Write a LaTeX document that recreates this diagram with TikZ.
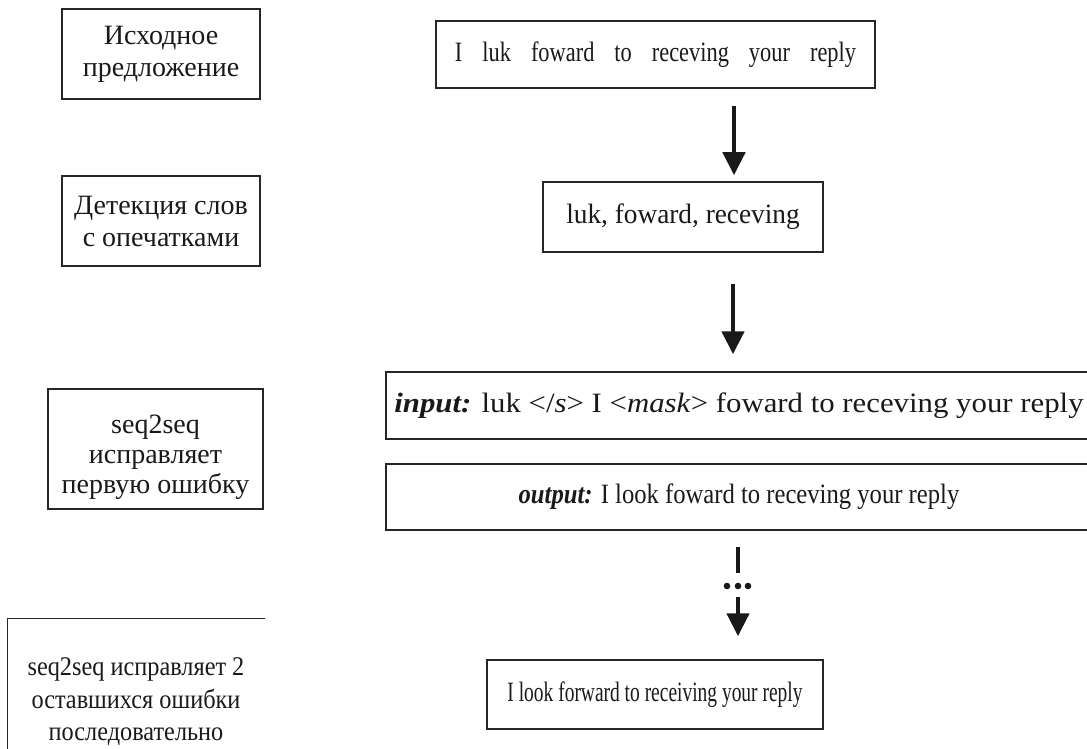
\documentclass[tikz,border=0pt]{standalone}
\usepackage{graphicx}
\usepackage{fontspec}
\setmainfont{Liberation Serif}
\usetikzlibrary{arrows.meta, positioning}

\newcommand{\gap}{\hspace{20pt}}
\newcommand{\squeeze}[2]{\scalebox{#1}[1]{#2}}

\tikzset{
  box/.style={draw=black!85, line width=1.5pt, align=center, inner sep=0pt,
    text=black!90, font=\fontsize{28}{32}\selectfont},
  stepnote/.style={box},
  flow/.style={line width=4.5pt, draw=black!90,
    -{Triangle[width=22pt,length=23pt]}},
}

\begin{document}
\begin{tikzpicture}[x=1pt, y=-1pt]
\clip (0,0) rectangle (1087,749);

% ========== left column: what each step does ==========
\node[stepnote, minimum width=198pt, minimum height=90pt] (src) at (161,54) {Исходное\\предложение};
\node[stepnote, minimum width=198pt, minimum height=90pt] (det) at (161,221) {Детекция слов\\с опечатками};
\node[stepnote, minimum width=215pt, minimum height=120pt, font=\fontsize{28}{30}\selectfont]
  (fix1) at (155.5,449) {\rule{0pt}{36pt}seq2seq\\исправляет\\первую ошибку};
\node[stepnote, draw=none, minimum width=256pt, minimum height=166pt, font=\fontsize{27}{32.5}\selectfont]
  (fixall) at (136,702) {\squeeze{0.9}{seq2seq исправляет 2}\\\squeeze{0.9}{оставшихся ошибки}\\\squeeze{0.9}{последовательно}};
\draw[black!85, line width=1.5pt] (fixall.south west) -- (fixall.north west) -- (fixall.north east);

% ========== right column: the sentence ==========
\node[box, minimum width=439pt, minimum height=67pt] (sent) at (655.5,54.5)
  {\squeeze{0.8}{I}\gap\squeeze{0.8}{luk}\gap\squeeze{0.8}{foward}\gap\squeeze{0.8}{to}\gap
   \squeeze{0.8}{receving}\gap\squeeze{0.8}{your}\gap\squeeze{0.8}{reply}};
\node[box, minimum width=280pt, minimum height=70pt] (typos) at (683,217)
  {\squeeze{0.975}{luk, foward, receving}};
\node[box, minimum width=706pt, minimum height=67pt] (inp) at (739,405.5)
  {\squeeze{1.1}{\textbf{\textit{input:}} luk \textless/\textit{s}\textgreater{} I \textless\textit{mask}\textgreater{} foward to receving your reply}};
\node[box, minimum width=706pt, minimum height=66pt] (outp) at (739,497)
  {\squeeze{0.88}{\textbf{\textit{output:}} I look foward to receving your reply}};
\node[box, minimum width=336pt, minimum height=69pt] (final) at (655,694.5)
  {\squeeze{0.695}{I look forward to receiving your reply}};

% ========== arrows ==========
\coordinate (a1) at (734,0);
\coordinate (a2) at (733,0);
\draw[flow, shorten <=17pt, shorten >=6pt] (sent.south -| a1) -- (typos.north -| a1);
\draw[flow, shorten <=31pt, shorten >=17pt] (typos.south -| a2) -- (inp.north -| a2);

% broken arrow with dots
\coordinate (dtop) at (738,547);
\coordinate (dbar) at (738,573);
\coordinate (ddots) at (738,586);
\coordinate (dhead) at (738,597);
\draw[line width=4.5pt, black!90] (dtop) -- (dbar);
\foreach \dx in {-11,0,10}
  \fill[black!90] ([xshift=\dx pt]ddots) circle (3.3pt);
\draw[flow, shorten >=23pt] (dhead) -- (final.north -| dhead);

\end{tikzpicture}
\end{document}
